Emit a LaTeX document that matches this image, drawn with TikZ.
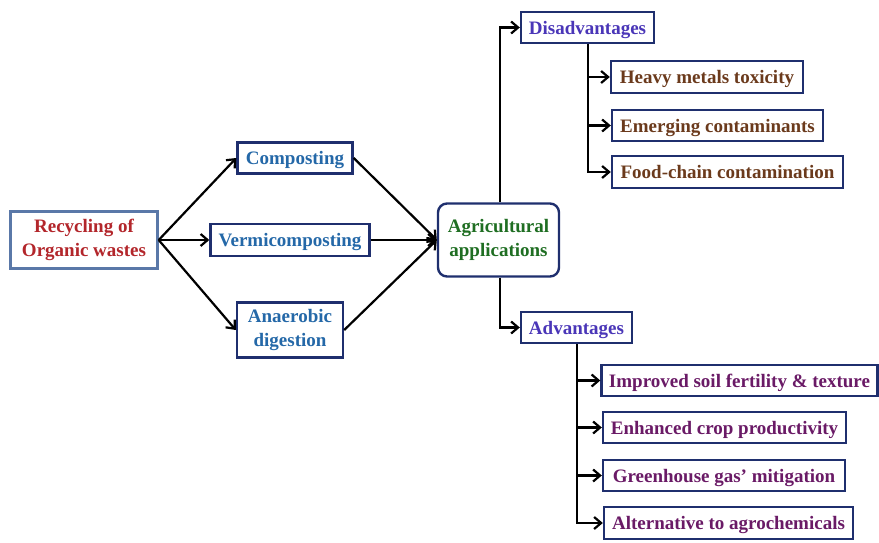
\documentclass[tikz,border=0pt]{standalone}
\usepackage{fontspec}
\setmainfont{Liberation Serif}
\usetikzlibrary{arrows.meta}
\definecolor{boxline}{HTML}{1F2F6E}
\definecolor{srcline}{HTML}{5A78A8}
\definecolor{redtxt}{HTML}{B3262B}
\definecolor{bluetxt}{HTML}{2468A8}
\definecolor{greentxt}{HTML}{1F6E22}
\definecolor{violettxt}{HTML}{4A36B8}
\definecolor{browntxt}{HTML}{6B3A1C}
\definecolor{plumtxt}{HTML}{6A1A66}
\tikzset{
  box/.style={draw=boxline, line width=2.4pt, fill=white, inner sep=0pt,
    font=\fontsize{19}{23.5}\selectfont\bfseries, align=center},
  oneline/.style={box, text height=14pt, text depth=1pt},
  link/.style={line width=2.2pt, -{Straight Barb[length=7pt,width=12pt,line width=2.2pt]}},
}
\begin{document}
\begin{tikzpicture}[x=1pt,y=-1pt]
\useasboundingbox (0,0) rectangle (879,542);
% source and routes
\node[box, draw=srcline, minimum width=147pt, minimum height=57pt, text=redtxt] (src) at (84,240) {Recycling of\\Organic wastes};
\node[oneline, minimum width=115pt, minimum height=31pt, text=bluetxt] (comp) at (295,158) {Composting};
\node[oneline, minimum width=159pt, minimum height=32pt, text=bluetxt] (verm) at (290,240) {Vermicomposting};
\node[box, minimum width=106pt, minimum height=55pt, text=bluetxt] (anae) at (290,330) {Anaerobic\\digestion};
\node[box, rounded corners=9pt, minimum width=121pt, minimum height=73pt, text=greentxt] (agri) at (498.5,240) {Agricultural\\applications};
% outcome headings
\node[oneline, minimum width=133pt, minimum height=31pt, text=violettxt] (dis) at (587.5,27.5) {Disadvantages};
\node[oneline, minimum width=111pt, minimum height=31pt, text=violettxt] (adv) at (576.5,327.5) {Advantages};
% disadvantages
\node[oneline, minimum width=192pt, minimum height=32pt, text=browntxt] (d1) at (707,77) {Heavy metals toxicity};
\node[oneline, minimum width=211pt, minimum height=31pt, text=browntxt] (d2) at (717.5,125.5) {Emerging contaminants};
\node[oneline, minimum width=231pt, minimum height=32pt, text=browntxt] (d3) at (727.5,172) {Food-chain contamination};
% advantages
\node[oneline, minimum width=276pt, minimum height=31pt, text=plumtxt] (a1) at (739.5,380.5) {Improved soil fertility \& texture};
\node[oneline, minimum width=243pt, minimum height=31pt, text=plumtxt] (a2) at (724.5,427.5) {Enhanced crop productivity};
\node[oneline, minimum width=242pt, minimum height=31pt, text=plumtxt] (a3) at (724,475.5) {Greenhouse gas’ mitigation};
\node[oneline, minimum width=249pt, minimum height=32pt, text=plumtxt] (a4) at (728.5,523) {Alternative to agrochemicals};
% connectors
\draw[link] (src.east) -- (comp.west);
\draw[link] (src.east) -- (verm.west);
\draw[link] (src.east) -- (anae.west);
\draw[link] (comp.east) -- (agri.west);
\draw[link] (verm.east) -- (agri.west);
\draw[link] (anae.east) -- (agri.west);
\coordinate (aup) at (500,0);
\draw[link] (agri.north -| aup) |- (dis.west);
\draw[link] (agri.south -| aup) |- (adv.west);
\coordinate (dtr) at (588,0);
\draw[link] (dis.south -| dtr) |- (d1.west);
\draw[link] (dis.south -| dtr) |- (d2.west);
\draw[link] (dis.south -| dtr) |- (d3.west);
\coordinate (atr) at (577,0);
\draw[link] (adv.south -| atr) |- (a1.west);
\draw[link] (adv.south -| atr) |- (a2.west);
\draw[link] (adv.south -| atr) |- (a3.west);
\draw[link] (adv.south -| atr) |- (a4.west);
\end{tikzpicture}
\end{document}
